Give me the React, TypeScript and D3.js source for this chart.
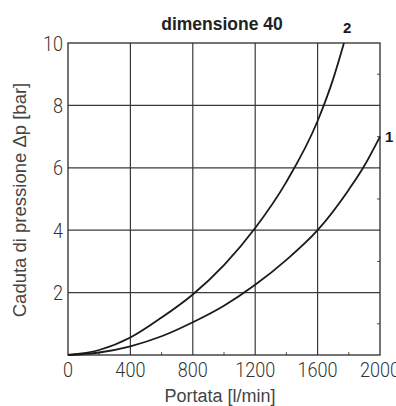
import React, { useEffect, useRef } from 'react';
import * as d3 from 'd3';

// portata [l/min] vs caduta di pressione [bar]
const curve1Flow = [0, 200, 400, 600, 800, 1000, 1200, 1400, 1600, 1800, 1892, 2000];
const curve1Dp = [0, 0.08, 0.28, 0.6, 1.05, 1.58, 2.25, 3.05, 4.0, 5.3, 6.0, 7.0];
const curve2Flow = [0, 200, 400, 600, 800, 1000, 1200, 1400, 1600, 1700, 1769];
const curve2Dp = [0, 0.16, 0.56, 1.2, 1.94, 2.88, 4.07, 5.55, 7.5, 8.85, 10.0];

const xTicks = [0, 400, 800, 1200, 1600, 2000];
const yTicks = [2, 4, 6, 8, 10];
const xMinor = [200, 600, 1000, 1400, 1800];
const yMinor = [1, 3, 5, 7, 9];

const title = 'dimensione 40';
const xTitle = 'Portata [l/min]';
const yTitle = 'Caduta di pressione Δp [bar]';

const App = () => {
  const ref = useRef<SVGSVGElement>(null);

  useEffect(() => {
    const width = 396;
    const height = 406;
    const margin = { top: 43, right: 16, bottom: 51, left: 68 };
    const w = width - margin.left - margin.right;
    const h = height - margin.top - margin.bottom;

    const root = d3.select(ref.current);
    root.selectAll('*').remove();
    root.attr('width', width).attr('height', height);

    const svg = root.append('g').attr('transform', `translate(${margin.left},${margin.top})`);

    const x = d3.scaleLinear().domain([0, 2000]).range([0, w]);
    const y = d3.scaleLinear().domain([0, 10]).range([h, 0]);

    // grid
    svg.append('g')
      .selectAll('line')
      .data(xTicks.slice(1, -1))
      .join('line')
      .attr('x1', d => x(d)).attr('x2', d => x(d))
      .attr('y1', 0).attr('y2', h)
      .attr('stroke', '#3a3a3a').attr('stroke-width', 1.2);

    svg.append('g')
      .selectAll('line')
      .data(yTicks.slice(0, -1))
      .join('line')
      .attr('x1', 0).attr('x2', w)
      .attr('y1', d => y(d)).attr('y2', d => y(d))
      .attr('stroke', '#3a3a3a').attr('stroke-width', 1.2);

    // minor ticks
    svg.append('g')
      .selectAll('line')
      .data(xMinor)
      .join('line')
      .attr('x1', d => x(d)).attr('x2', d => x(d))
      .attr('y1', h).attr('y2', h - 3)
      .attr('stroke', '#555');

    svg.append('g')
      .selectAll('line')
      .data(yMinor)
      .join('line')
      .attr('x1', w).attr('x2', w - 3)
      .attr('y1', d => y(d)).attr('y2', d => y(d))
      .attr('stroke', '#555');

    // frame
    svg.append('rect')
      .attr('width', w).attr('height', h)
      .attr('fill', 'none')
      .attr('stroke', '#2a2a2a').attr('stroke-width', 1.3);

    // tick labels
    const tickFont = 'Roboto, sans-serif';
    svg.append('g')
      .selectAll('text')
      .data(xTicks)
      .join('text')
      .attr('transform', d => `translate(${x(d)},${h + 22}) scale(0.86,1)`)
      .attr('text-anchor', 'middle')
      .style('font-family', tickFont)
      .style('font-weight', 300)
      .style('font-size', '21px')
      .style('fill', '#333')
      .text(d => d);

    svg.append('g')
      .selectAll('text')
      .data(yTicks)
      .join('text')
      .attr('transform', d => `translate(-5,${y(d) + 7.5}) scale(0.86,1)`)
      .attr('text-anchor', 'end')
      .style('font-family', tickFont)
      .style('font-weight', 300)
      .style('font-size', '21px')
      .style('fill', '#333')
      .text(d => d);

    // curves
    const line = d3.line<[number, number]>()
      .curve(d3.curveMonotoneX)
      .x(d => x(d[0]))
      .y(d => y(d[1]));

    const c1 = curve1Flow.map((f, i) => [f, curve1Dp[i]] as [number, number]);
    const c2 = curve2Flow.map((f, i) => [f, curve2Dp[i]] as [number, number]);

    [c1, c2].forEach(c => {
      svg.append('path')
        .datum(c)
        .attr('fill', 'none')
        .attr('stroke', '#1a1a1a')
        .attr('stroke-width', 1.8)
        .attr('d', line);
    });

    // curve labels
    const labelFont = 'Liberation Sans, Arial, sans-serif';
    svg.append('text')
      .attr('x', x(1776) + 2).attr('y', -10)
      .attr('text-anchor', 'middle')
      .style('font-family', labelFont)
      .style('font-weight', 'bold')
      .style('font-size', '15px')
      .style('fill', '#1a1a1a')
      .text('2');

    svg.append('text')
      .attr('x', w + 5).attr('y', y(7) + 5)
      .style('font-family', labelFont)
      .style('font-weight', 'bold')
      .style('font-size', '15px')
      .style('fill', '#1a1a1a')
      .text('1');

    // titles
    root.append('text')
      .attr('x', 222).attr('y', 30)
      .attr('text-anchor', 'middle')
      .style('font-family', labelFont)
      .style('font-weight', 'bold')
      .style('font-size', '17.5px')
      .style('fill', '#222')
      .text(title);

    root.append('text')
      .attr('x', 220).attr('y', 402)
      .attr('text-anchor', 'middle')
      .style('font-family', labelFont)
      .style('font-size', '18px')
      .style('fill', '#444')
      .text(xTitle);

    root.append('text')
      .attr('transform', `translate(25.5,200) rotate(-90)`)
      .attr('text-anchor', 'middle')
      .style('font-family', labelFont)
      .style('font-size', '18.5px')
      .style('fill', '#444')
      .text(yTitle);
  }, []);

  return (
    <div style={{ position: 'absolute', left: 0, top: 0 }}>
      <svg ref={ref} style={{ display: 'block' }} />
    </div>
  );
};

export default App;
